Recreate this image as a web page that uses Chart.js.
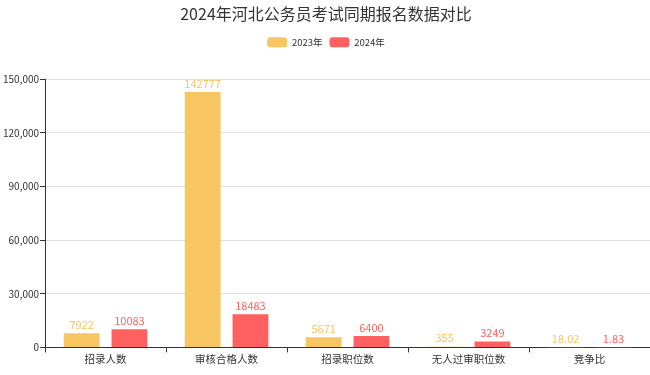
<!DOCTYPE html>
<html><head><meta charset="utf-8">
<script src="https://cdn.jsdelivr.net/npm/chart.js@4.4.0/dist/chart.umd.min.js"></script>
<style>html,body{margin:0;padding:0;background:#fff;overflow:hidden}#wrap{width:650px;height:375px;position:relative}</style>
</head><body><div id="wrap"><canvas id="c"></canvas></div>
<script>
const categories = ["招录人数","审核合格人数","招录职位数","无人过审职位数","竞争比"];
const values2023 = [7922, 142777, 5671, 355, 18.02];
const values2024 = [10083, 18483, 6400, 3249, 1.83];
const labels2023 = ["7922","142777","5671","355","18.02"];
const labels2024 = ["10083","18483","6400","3249","1.83"];
const yTicks = [0, 30000, 60000, 90000, 120000, 150000];
const FONT = "'Noto Sans CJK SC','Noto Sans',sans-serif";

const valueLabels = {
  id: 'valueLabels',
  afterDatasetsDraw(chart) {
    const ctx = chart.ctx;
    const texts = [labels2023, labels2024];
    chart.data.datasets.forEach((ds, i) => {
      const meta = chart.getDatasetMeta(i);
      meta.data.forEach((bar, j) => {
        ctx.save();
        ctx.fillStyle = ds.backgroundColor;
        ctx.font = "11px " + FONT;
        ctx.textAlign = 'center';
        ctx.textBaseline = 'bottom';
        ctx.fillText(texts[i][j], bar.x, bar.y - 3);
        ctx.restore();
      });
    });
  }
};
const legendMargin = {
  id: 'legendMargin',
  beforeInit(chart) {
    const orig = chart.legend.fit;
    chart.legend.fit = function() { orig.bind(chart.legend)(); this.height += 22; };
  }
};

new Chart(document.getElementById('c'), {
  type: 'bar',
  data: {
    labels: categories,
    datasets: [
      {label: '2023年', data: values2023, backgroundColor: '#F7C562', borderColor: '#F7C562', borderWidth: 0},
      {label: '2024年', data: values2024, backgroundColor: '#FF6060', borderColor: '#FF6060', borderWidth: 0}
    ]
  },
  options: {
    responsive: true,
    maintainAspectRatio: false,
    animation: false,
    devicePixelRatio: 1,
    layout: {padding: {left: 2, right: 0, top: 0, bottom: 10}},
    datasets: {bar: {categoryPercentage: 0.79, barPercentage: 0.75}},
    plugins: {
      title: {display: true, text: '2024年河北公务员考试同期报名数据对比', color: '#333', font: {family: FONT, size: 16, weight: 'normal'}, padding: {top: 4, bottom: 7}},
      legend: {
        labels: {color: '#333', font: {family: FONT, size: 9.5}, boxWidth: 20, boxHeight: 10, useBorderRadius: true, borderRadius: 3, padding: 7},
        onClick: null
      },
      tooltip: {enabled: false}
    },
    scales: {
      x: {
        grid: {drawOnChartArea: false, drawTicks: true, tickLength: 5, offset: true, color: '#333'},
        border: {display: true, color: '#333', width: 1},
        ticks: {color: '#333', font: {family: FONT, size: 10.5}, padding: 0}
      },
      y: {
        min: 0, max: 150000,
        afterBuildTicks(axis) { axis.ticks = yTicks.map(v => ({value: v})); },
        grid: {color: '#e0e0e0', drawTicks: true, tickLength: 5, tickColor: '#333'},
        border: {display: true, color: '#333', width: 1},
        ticks: {color: '#333', font: {family: FONT, size: 10}, padding: 1,
          callback: v => v.toLocaleString('en-US')}
      }
    }
  },
  plugins: [valueLabels, legendMargin]
});
</script></body></html>
